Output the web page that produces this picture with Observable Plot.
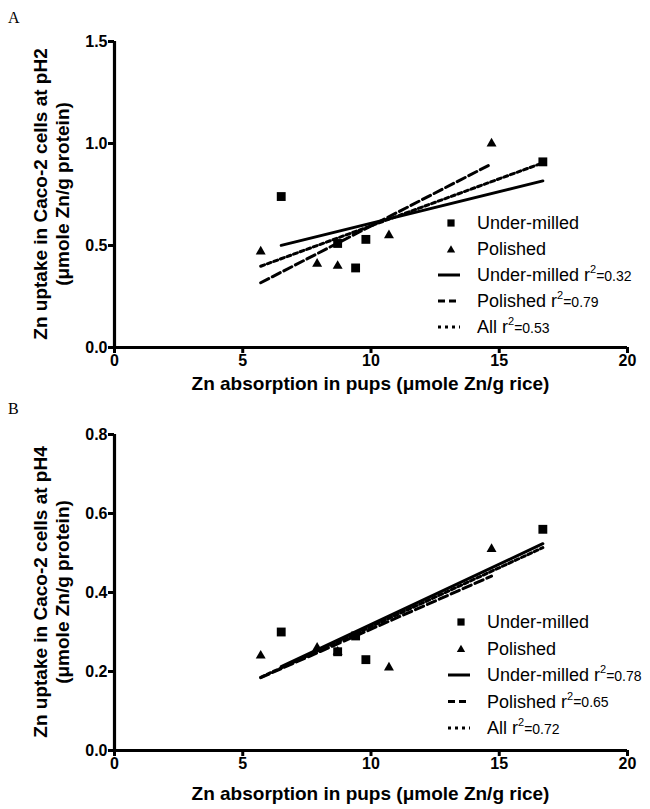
<!DOCTYPE html>
<html>
<head>
<meta charset="utf-8">
<script src="https://cdn.jsdelivr.net/npm/d3@7"></script>
<script src="https://cdn.jsdelivr.net/npm/@observablehq/plot@0.6"></script>
<style>
  body { margin: 0; background: #fff; }
  #page { position: relative; width: 650px; height: 809px; overflow: hidden; background: #fff; }
  .panel { position: absolute; left: 0; width: 650px; }
  .panel svg text { font-weight: 700; }
  .panel svg text.legend-text, .panel svg text.legend-text tspan { font-weight: 400; }
  .panel svg text.letter { font-weight: 400; }
</style>
</head>
<body>
<div id="page"></div>
<script>
// ---- Data ----
const xUnderMilled = [6.5, 8.7, 9.4, 9.8, 16.7];
const xPolished    = [5.7, 7.9, 8.7, 10.7, 14.7];

const yA_UnderMilled = [0.74, 0.51, 0.39, 0.53, 0.91];
const yA_Polished    = [0.47, 0.41, 0.40, 0.55, 1.00];

const yB_UnderMilled = [0.30, 0.25, 0.29, 0.23, 0.56];
const yB_Polished    = [0.24, 0.26, 0.25, 0.21, 0.51];

const xTicks  = [0, 5, 10, 15, 20];
const yTicksA = [0, 0.5, 1.0, 1.5];
const yTicksB = [0, 0.2, 0.4, 0.6, 0.8];

const groupLabels = ["Under-milled", "Polished"];
const fitLabels   = ["Under-milled", "Polished", "All"];
const r2A = ["0.32", "0.79", "0.53"];
const r2B = ["0.78", "0.65", "0.72"];

const xTitle = "Zn absorption in pups (\u03bcmole Zn/g rice)";
const yTitleA = ["Zn uptake in Caco-2 cells at pH2", "(\u03bcmole Zn/g protein)"];
const yTitleB = ["Zn uptake in Caco-2 cells at pH4", "(\u03bcmole Zn/g protein)"];

const SANS = "'Liberation Sans', Arial, sans-serif";
const SERIF = "'Liberation Serif', 'Times New Roman', serif";

function rows(xs, ys, group) {
  return xs.map((x, i) => ({x, y: ys[i], group}));
}

function makePanel({top, height, mT, plotH, letterY, titleDy, letter, yDomain, yTicks,
                    yUM, yPol, r2, yTitle, legendDx, legendY0, legendStep}) {
  const um = rows(xUnderMilled, yUM, groupLabels[0]);
  const pol = rows(xPolished, yPol, groupLabels[1]);
  const all = um.concat(pol);
  const mB = height - plotH - mT, mL = 114, mR = 23;

  const chart = Plot.plot({
    width: 650, height,
    marginLeft: mL, marginRight: mR, marginTop: mT, marginBottom: mB,
    style: {fontFamily: SANS, fontWeight: "bold", background: "white", color: "black", overflow: "visible"},
    x: {domain: [0, 20]},
    y: {domain: yDomain},
    marks: [
      Plot.axisX({ticks: xTicks, tickSize: 6, strokeWidth: 3, tickPadding: 1,
                  fontSize: 16, fontWeight: "bold", label: null}),
      Plot.axisY({ticks: yTicks, tickSize: 6, strokeWidth: 3, tickPadding: 1,
                  tickFormat: d3.format(".1f"), fontSize: 16, fontWeight: "bold", label: null}),
      Plot.ruleY([yDomain[0]], {x1: 0, x2: 20, strokeWidth: 3.2}),
      Plot.ruleX([0], {y1: yDomain[0], y2: yDomain[1], strokeWidth: 3.2}),
      Plot.linearRegressionY(um, {x: "x", y: "y", ci: 0, stroke: "black", strokeWidth: 3}),
      Plot.linearRegressionY(pol, {x: "x", y: "y", ci: 0, stroke: "black", strokeWidth: 3, strokeDasharray: "9,4"}),
      Plot.linearRegressionY(all, {x: "x", y: "y", ci: 0, stroke: "black", strokeWidth: 3, strokeDasharray: "4,3"}),
      Plot.dot(um, {x: "x", y: "y", symbol: "square", r: 5, fill: "black"}),
      Plot.dot(pol, {x: "x", y: "y", symbol: "triangle", r: 3.7, fill: "black"})
    ]
  });

  const div = document.createElement("div");
  div.className = "panel";
  div.style.top = top + "px";
  div.style.height = height + "px";
  div.appendChild(chart);
  document.getElementById("page").appendChild(div);

  const svg = d3.select(chart);

  // panel letter
  svg.append("text").attr("class", "letter").attr("x", 8).attr("y", letterY).attr("text-anchor", "start")
    .attr("font-family", SERIF).attr("font-size", 16).attr("font-weight", "normal")
    .attr("fill", "black").text(letter);

  // y-axis title (two lines)
  const yMid = mT + plotH / 2;
  yTitle.forEach((t, i) => {
    svg.append("text")
      .attr("transform", `translate(${40 + i * 22},${yMid}) rotate(-90)`)
      .attr("text-anchor", "middle").attr("dy", "0.35em")
      .attr("font-family", SANS).attr("font-size", 19).attr("font-weight", "bold")
      .attr("fill", "black").text(t);
  });

  // x-axis title
  svg.append("text")
    .attr("x", (mL + 650 - mR) / 2).attr("y", mT + plotH + titleDy)
    .attr("text-anchor", "middle")
    .attr("font-family", SANS).attr("font-size", 19).attr("font-weight", "bold")
    .attr("fill", "black").text(xTitle);

  // legend
  const lg = svg.append("g").attr("transform", `translate(${legendDx},0)`)
    .attr("text-anchor", "start").attr("font-weight", "normal");
  const rowY = i => legendY0 + i * legendStep;
  const symX = 451, lineX1 = 438, lineX2 = 460, textX = 477;
  lg.append("path").attr("d", d3.symbol(d3.symbolSquare, 52)())
    .attr("transform", `translate(${symX},${rowY(0)})`).attr("fill", "black");
  lg.append("path").attr("d", d3.symbol(d3.symbolTriangle, 30)())
    .attr("transform", `translate(${symX},${rowY(1) + 1})`).attr("fill", "black");
  groupLabels.forEach((lab, i) => {
    lg.append("text").attr("class", "legend-text").attr("x", textX).attr("y", rowY(i)).attr("dy", "0.35em")
      .attr("text-anchor", "start")
      .attr("font-family", SANS).attr("font-size", 18).attr("fill", "black").text(lab);
  });
  const dashes = [null, "7,4", "3,4"];
  fitLabels.forEach((lab, i) => {
    const y = rowY(i + 2);
    const ln = lg.append("line").attr("x1", lineX1).attr("x2", lineX2)
      .attr("y1", y).attr("y2", y).attr("stroke", "black").attr("stroke-width", 3);
    if (dashes[i]) ln.attr("stroke-dasharray", dashes[i]);
    const t = lg.append("text").attr("class", "legend-text").attr("x", textX).attr("y", y).attr("dy", "0.35em")
      .attr("text-anchor", "start")
      .attr("font-family", SANS).attr("font-size", 18).attr("fill", "black");
    t.append("tspan").text(lab + " r");
    t.append("tspan").attr("font-size", 11).attr("dy", "-0.75em").text("2");
    t.append("tspan").attr("font-size", 14).attr("dy", "0.55em").text("=" + r2[i]);
  });
}

makePanel({top: 0, height: 403, mT: 41, plotH: 306, letterY: 23, titleDy: 43, letter: "A",
  yDomain: [0, 1.5], yTicks: yTicksA, yUM: yA_UnderMilled, yPol: yA_Polished, r2: r2A,
  yTitle: yTitleA, legendDx: 0, legendY0: 223, legendStep: 26});
makePanel({top: 403, height: 406, mT: 31, plotH: 316, letterY: 11, titleDy: 50, letter: "B",
  yDomain: [0, 0.8], yTicks: yTicksB, yUM: yB_UnderMilled, yPol: yB_Polished, r2: r2B,
  yTitle: yTitleB, legendDx: 10, legendY0: 219, legendStep: 26.5});
</script>
</body>
</html>
